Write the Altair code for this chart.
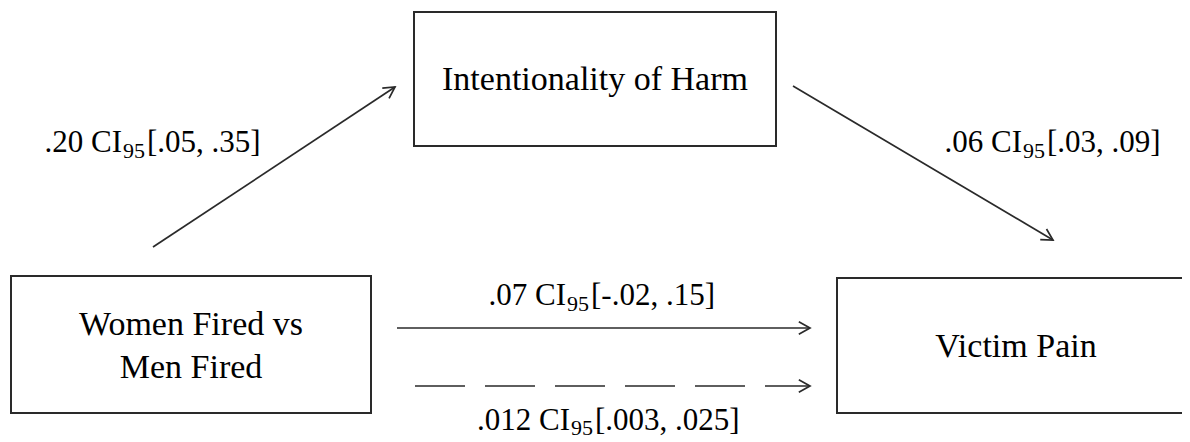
import altair as alt
import numpy as np
import pandas as pd

# ---- text content ----
box_labels = ["Intentionality of Harm", "Women Fired vs", "Men Fired", "Victim Pain"]
path_prefix = [".20 CI", ".06 CI", ".07 CI", ".012 CI"]
path_sub = ["95", "95", "95", "95"]
path_suffix = ["[.05, .35]", "[.03, .09]", "[-.02, .15]", "[.003, .025]"]

# ---- layout (page pixel coordinates) ----
box_x = [414, 11, 837]
box_x2 = [776, 371, 1200]
box_y = [12, 276, 278]
box_y2 = [146, 413, 413]

box_label_x = [595, 191, 191, 1016]
box_label_y = [90, 335, 378, 357]

arrow_x = [153, 793, 397]
arrow_y = [247, 86, 328]
arrow_x2 = [395, 1053, 810]
arrow_y2 = [87, 240, 328]

dash_x = [415]
dash_y = [386]
dash_x2 = [810]
dash_y2 = [386]

lab_x0 = [122, 1022, 566, 570]
lab_y = [152, 152, 305, 430]
lab_sub_dy = [6, 6, 6, 5]

FONT = "Liberation Serif"
LINE = "#2a2a2a"
W, H = 1174, 434

xs = alt.Scale(domain=[8, 8 + W], nice=False, zero=False)
ys = alt.Scale(domain=[8, 8 + H], nice=False, zero=False, reverse=True)


def X(f):
    return alt.X(f, type="quantitative", scale=xs, axis=None)


def Y(f):
    return alt.Y(f, type="quantitative", scale=ys, axis=None)


boxes = pd.DataFrame({"x": box_x, "x2": box_x2, "y": box_y, "y2": box_y2})
blabels = pd.DataFrame({"x": box_label_x, "y": box_label_y, "t": box_labels})

arrows = pd.DataFrame({"x": arrow_x, "y": arrow_y, "x2": arrow_x2, "y2": arrow_y2})
dashes = pd.DataFrame({"x": dash_x, "y": dash_y, "x2": dash_x2, "y2": dash_y2})
heads = pd.concat([arrows, dashes], ignore_index=True)
heads["ang"] = np.mod(np.degrees(np.arctan2(heads["y2"] - heads["y"], heads["x2"] - heads["x"])), 360)

labs = pd.DataFrame({
    "x0": lab_x0, "y": lab_y, "dy": lab_sub_dy,
    "pre": path_prefix, "sub": path_sub, "suf": path_suffix,
})
labs["xs"] = labs["x0"] + 1
labs["xf"] = labs["x0"] + 25
labs["ysub"] = labs["y"] + labs["dy"]

rects = alt.Chart(boxes).mark_rect(fill="white", stroke=LINE, strokeWidth=2).encode(
    x=X("x"), x2="x2", y=Y("y"), y2="y2"
)

btext = alt.Chart(blabels).mark_text(
    font=FONT, fontSize=34, align="center", baseline="alphabetic", color="black"
).encode(x=X("x"), y=Y("y"), text="t:N")

solid = alt.Chart(arrows).mark_rule(color=LINE, strokeWidth=1.7).encode(
    x=X("x"), y=Y("y"), x2="x2", y2="y2"
)
dashed = alt.Chart(dashes).mark_rule(color=LINE, strokeWidth=1.7, strokeDash=[50, 20]).encode(
    x=X("x"), y=Y("y"), x2="x2", y2="y2"
)
arrowheads = alt.Chart(heads).mark_point(
    shape="M-1,-0.55L0,0L-1,0.55", filled=False, stroke=LINE, strokeWidth=1.7, size=500, opacity=1
).encode(x=X("x2"), y=Y("y2"), angle=alt.Angle("ang:Q", scale=None))

pre = alt.Chart(labs).mark_text(
    font=FONT, fontSize=31, align="right", baseline="alphabetic", color="black"
).encode(x=X("x0"), y=Y("y"), text="pre:N")
sub = alt.Chart(labs).mark_text(
    font=FONT, fontSize=22, align="left", baseline="alphabetic", color="black"
).encode(x=X("xs"), y=Y("ysub"), text="sub:N")
suf = alt.Chart(labs).mark_text(
    font=FONT, fontSize=31, align="left", baseline="alphabetic", color="black"
).encode(x=X("xf"), y=Y("y"), text="suf:N")

chart = alt.layer(rects, btext, solid, dashed, arrowheads, pre, sub, suf).properties(
    width=W, height=H, padding=0, autosize=alt.AutoSizeParams(type="none"), background="white"
).configure_view(strokeWidth=0)

chart.save("out.html", embed_options={"renderer": "svg", "actions": False})
